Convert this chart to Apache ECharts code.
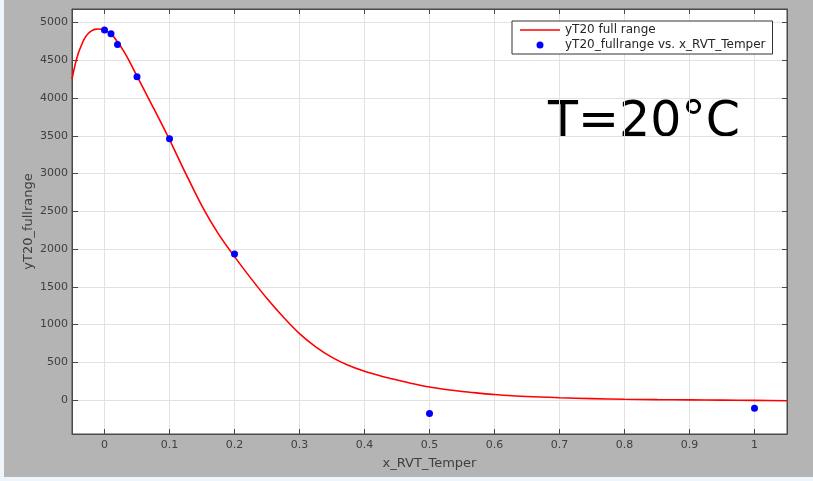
<!DOCTYPE html>
<html>
<head>
<meta charset="utf-8">
<script src="https://cdn.jsdelivr.net/npm/echarts@6/dist/echarts.min.js"></script>
<style>
  html, body { margin: 0; padding: 0; background: #eef5fb; }
  #chart { position: absolute; left: 4px; top: 0; width: 809px; height: 477px; }
</style>
</head>
<body>
<div id="chart"></div>
<script>
// Fitted curve "yT20 full range"
var curveX = [-0.05, -0.045, -0.04, -0.035, -0.03, -0.025, -0.02, -0.015, -0.01, -0.005, 0, 0.01, 0.02, 0.03, 0.04, 0.05, 0.075, 0.1, 0.125, 0.15, 0.175, 0.2, 0.225, 0.25, 0.275, 0.3, 0.325, 0.35, 0.375, 0.4, 0.425, 0.45, 0.475, 0.5, 0.525, 0.55, 0.575, 0.6, 0.65, 0.7, 0.75, 0.8, 0.85, 0.9, 0.95, 1.0, 1.05];
var curveY = [4250, 4450, 4600, 4710, 4800, 4855, 4890, 4910, 4915, 4912, 4900, 4850, 4745, 4615, 4460, 4290, 3875, 3450, 3000, 2570, 2205, 1900, 1615, 1345, 1100, 880, 705, 565, 460, 380, 318, 265, 215, 172, 140, 113, 92, 73, 46, 30, 19, 10, 5, 2, -1, -5, -9];
// Measured points "yT20_fullrange vs. x_RVT_Temper"
var pointX = [0, 0.01, 0.02, 0.05, 0.1, 0.2, 0.5, 1.0];
var pointY = [4903, 4851, 4709, 4282, 3462, 1935, -180, -110];
var xTicks = [0, 0.1, 0.2, 0.3, 0.4, 0.5, 0.6, 0.7, 0.8, 0.9, 1];
var yTicks = [0, 500, 1000, 1500, 2000, 2500, 3000, 3500, 4000, 4500, 5000];
var seriesNames = ['yT20 full range', 'yT20_fullrange vs. x_RVT_Temper'];
var annotation = 'T=20°C';

function zip(a, b) { return a.map(function (v, i) { return [v, b[i]]; }); }
function isTick(list, v) { return list.some(function (t) { return Math.abs(t - v) < 1e-9; }); }

var FONT = 'DejaVu Sans';
var axisColor = '#4a4a4a';
var chart = echarts.init(document.getElementById('chart'));
chart.setOption({
  backgroundColor: '#b4b4b4',
  animation: false,
  textStyle: { fontFamily: FONT },
  grid: { left: 68, top: 9, right: 26, bottom: 43, show: true, backgroundColor: '#ffffff', borderColor: axisColor, borderWidth: 1 },
  xAxis: [{
    type: 'value', min: -0.05, max: 1.05, splitNumber: 11,
    name: 'x_RVT_Temper', nameLocation: 'middle', nameGap: 23, nameMoveOverlap: false,
    nameTextStyle: { color: '#404040', fontSize: 13, fontFamily: FONT },
    axisLine: { show: true, onZero: false, lineStyle: { color: axisColor } },
    axisTick: { show: true, inside: true, length: 5, lineStyle: { color: axisColor } },
    axisLabel: { color: '#404040', fontSize: 11, margin: 6, showMinLabel: false, showMaxLabel: false,
      formatter: function (v) { return isTick(xTicks, v) ? String(+v.toFixed(2)) : ''; } },
    splitLine: { show: true, lineStyle: { color: '#e2e2e2', width: 1 } }
  }, {
    type: 'value', min: -0.05, max: 1.05, splitNumber: 11, position: 'top',
    axisLine: { show: true, onZero: false, lineStyle: { color: axisColor } },
    axisTick: { show: true, inside: true, length: 5, lineStyle: { color: axisColor } },
    axisLabel: { show: false }, splitLine: { show: false }
  }],
  yAxis: [{
    type: 'value', min: -450, max: 5180, splitNumber: 11,
    name: 'yT20_fullrange', nameLocation: 'middle', nameGap: 37, nameMoveOverlap: false,
    nameTextStyle: { color: '#404040', fontSize: 13, fontFamily: FONT },
    axisLine: { show: true, onZero: false, lineStyle: { color: axisColor } },
    axisTick: { show: true, inside: true, length: 6, lineStyle: { color: axisColor } },
    axisLabel: { color: '#404040', fontSize: 11, margin: 4, showMinLabel: false, showMaxLabel: false,
      formatter: function (v) { return isTick(yTicks, v) ? String(v) : ''; } },
    splitLine: { show: true, lineStyle: { color: '#e2e2e2', width: 1 } }
  }, {
    type: 'value', min: -450, max: 5180, splitNumber: 11, position: 'right',
    axisLine: { show: true, onZero: false, lineStyle: { color: axisColor } },
    axisTick: { show: true, inside: true, length: 5, lineStyle: { color: axisColor } },
    axisLabel: { show: false }, splitLine: { show: false }
  }],
  legend: {
    orient: 'vertical', left: 508, top: 21,
    backgroundColor: '#ffffff', borderColor: '#333333', borderWidth: 1, borderRadius: 0,
    padding: [3, 7, 3, 8], itemGap: 3, itemWidth: 40, itemHeight: 7,
    textStyle: { color: '#262626', fontSize: 12, fontFamily: FONT },
    data: [
      { name: seriesNames[0], icon: 'path://M0,0L40,0L40,1.6L0,1.6Z' },
      { name: seriesNames[1], icon: 'circle' }
    ]
  },
  graphic: [{
    type: 'text', left: 544, top: 99,
    style: { text: annotation, fontSize: 49, fontFamily: FONT, fill: '#000000' }
  }],
  series: [{
    name: seriesNames[0], type: 'line', smooth: 0.3, symbol: 'none',
    lineStyle: { color: '#ff0000', width: 1.6 }, itemStyle: { color: '#ff0000' },
    data: zip(curveX, curveY), z: 2
  }, {
    name: seriesNames[1], type: 'scatter', symbol: 'circle', symbolSize: 7,
    itemStyle: { color: '#0000ff', opacity: 1 }, data: zip(pointX, pointY), z: 3
  }]
});
</script>
</body>
</html>
